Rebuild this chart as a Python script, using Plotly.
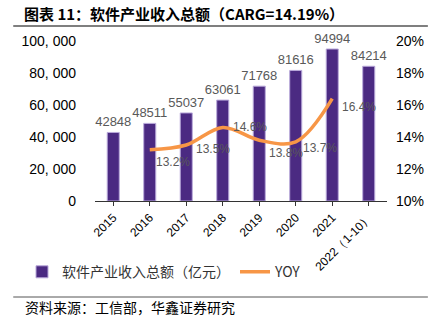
import plotly.graph_objects as go

years = ["2015", "2016", "2017", "2018", "2019", "2020", "2021", "2022（1-10）"]
revenue = [42848, 48511, 55037, 63061, 71768, 81616, 94994, 84214]
yoy_years = ["2016", "2017", "2018", "2019", "2020", "2021"]
yoy = [13.2, 13.5, 14.6, 13.8, 13.7, 16.4]

left_ticks = [0, 20000, 40000, 60000, 80000, 100000]
left_tick_text = ["0", "20, 000", "40, 000", "60, 000", "80, 000", "100, 000"]
right_ticks = [10, 12, 14, 16, 18, 20]
right_tick_text = ["10%", "12%", "14%", "16%", "18%", "20%"]

# pixel offsets of each YOY label from its point (right, down)
label_dx = [4, 8, 8, 8, 5, 8]
label_dy = [12, 4, 0, 13, 6, 8]

font_cjk = "Noto Sans CJK SC"
font_num = "Liberation Sans, Arial, sans-serif"

fig = go.Figure()

fig.add_trace(go.Bar(
    x=years, y=revenue, name="软件产业收入总额（亿元）",
    marker=dict(color="#4B2A82", line=dict(color="#B9A9DA", width=1)),
    width=0.33,
    text=[str(v) for v in revenue], textposition="outside",
    constraintext="none",
    textfont=dict(color="#595959", size=13, family=font_num),
    cliponaxis=False,
))

fig.add_trace(go.Scatter(
    x=yoy_years, y=yoy, name="YOY", yaxis="y2",
    mode="lines",
    line=dict(color="#F79646", width=3.5, shape="spline", smoothing=1.0),
    cliponaxis=False,
))

# category axis: annotations are placed by category index
for yr, v, dx, dy in zip(yoy_years, yoy, label_dx, label_dy):
    fig.add_annotation(
        x=years.index(yr), y=v, xref="x", yref="y2", text=f"{v:.1f}%",
        showarrow=False, xanchor="left", yanchor="middle",
        xshift=dx, yshift=-dy,
        font=dict(color="#595959", size=12, family=font_num),
    )

fig.update_layout(
    width=437, height=324,
    margin=dict(l=95, r=50, t=41, b=123),
    paper_bgcolor="white", plot_bgcolor="white",
    showlegend=True,
    legend=dict(orientation="h", x=-0.25, y=-0.345, xanchor="left", yanchor="top",
                font=dict(family=font_cjk, size=14, color="#333333"),
                itemwidth=30, tracegroupgap=0),
    xaxis=dict(
        type="category", tickangle=-45,
        range=[-0.5, len(years) - 0.5],
        showline=True, linecolor="#333333", linewidth=1,
        ticks="outside", ticklen=4, tickcolor="#333333",
        tickfont=dict(family=font_num, size=12, color="#000000"),
        showgrid=False,
    ),
    yaxis=dict(
        range=[0, 100000], tickvals=left_ticks, ticktext=left_tick_text,
        showgrid=False, showline=False, zeroline=False,
        tickfont=dict(family=font_num, size=14, color="#000000"),
        ticks="", ticklabelstandoff=18,
    ),
    yaxis2=dict(
        range=[10, 20], tickvals=right_ticks, ticktext=right_tick_text,
        overlaying="y", side="right",
        showgrid=False, showline=False, zeroline=False,
        tickfont=dict(family=font_num, size=14, color="#000000"),
        ticks="", ticklabelstandoff=8,
    ),
)

# header and footer
fig.add_annotation(
    text="<b>图表 11：软件产业收入总额（CARG=14.19%）</b>",
    xref="paper", yref="paper", x=-0.25, y=1.17, xanchor="left", yanchor="middle",
    showarrow=False, font=dict(family=font_cjk, size=15, color="#000000"),
)
fig.add_shape(type="line", xref="paper", yref="paper",
              x0=-0.28, x1=1.14, y0=1.093, y1=1.093,
              line=dict(color="#555555", width=1.5))
fig.add_shape(type="line", xref="paper", yref="paper",
              x0=-0.28, x1=1.14, y0=-0.60, y1=-0.60,
              line=dict(color="#555555", width=1))
fig.add_annotation(
    text="资料来源：工信部，华鑫证券研究",
    xref="paper", yref="paper", x=-0.245, y=-0.665, xanchor="left", yanchor="middle",
    showarrow=False, font=dict(family=font_cjk, size=14, color="#000000"),
)

fig.write_html("out.html")
